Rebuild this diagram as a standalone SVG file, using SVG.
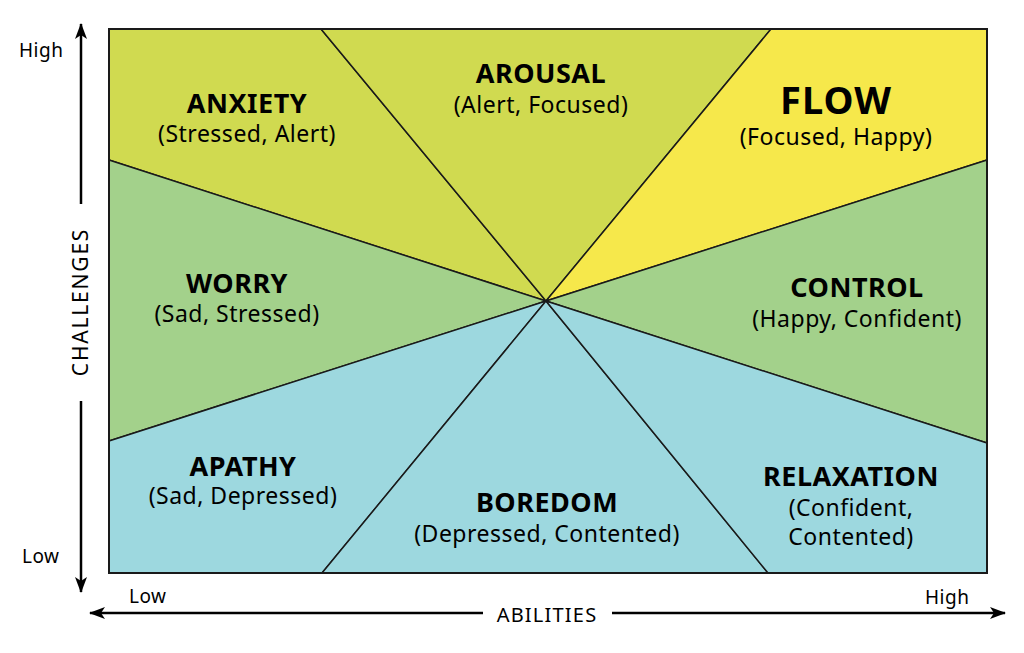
<svg xmlns="http://www.w3.org/2000/svg" width="1024" height="653" viewBox="0 0 1024 653">
<defs>
<marker id="ah" viewBox="0 0 16 12" refX="15" refY="6" markerWidth="16" markerHeight="12" markerUnits="userSpaceOnUse" orient="auto">
<path d="M0,0 L16,6 L0,12 L4,6 Z" fill="#000"/>
</marker>
<style>
.seg{stroke:#1a1a1a;stroke-width:1.5;stroke-linejoin:round}
.yg{fill:#D0DA50}.fl{fill:#F6E84B}.gr{fill:#A3D18B}.bl{fill:#9DD8DF}
.t{font-family:"Noto Sans",Lato,sans-serif;font-weight:700;font-size:27px;fill:#000;text-anchor:middle;letter-spacing:0.5px}
.s{font-family:"Noto Sans",Lato,sans-serif;font-weight:400;font-size:23px;fill:#000;text-anchor:middle;letter-spacing:0.5px}
.ax{font-family:"Noto Sans",Lato,sans-serif;font-weight:400;font-size:19px;fill:#000;letter-spacing:0.5px}
.axl{font-family:"Noto Sans",Lato,sans-serif;font-weight:400;font-size:20px;fill:#000;text-anchor:middle;letter-spacing:1.2px}
.arr{stroke:#000;stroke-width:2.5;fill:none}
</style>
</defs>
<rect width="1024" height="653" fill="#fff"/>
<g id="anxiety">
<polygon class="yg seg" points="109,29 321,29 546,301 109,160"/>
<text class="t" x="247" y="113">ANXIETY</text>
<text class="s" x="247" y="142">(Stressed, Alert)</text>
</g>
<g id="arousal">
<polygon class="yg seg" points="321,29 771,29 546,301"/>
<text class="t" x="541" y="83">AROUSAL</text>
<text class="s" x="541" y="113">(Alert, Focused)</text>
</g>
<g id="flow">
<polygon class="fl seg" points="771,29 987,29 987,160 546,301"/>
<text class="t" x="836" y="114" style="font-size:38px;letter-spacing:1px">FLOW</text>
<text class="s" x="836" y="145">(Focused, Happy)</text>
</g>
<g id="worry">
<polygon class="gr seg" points="109,160 546,301 109,441"/>
<text class="t" x="237" y="293">WORRY</text>
<text class="s" x="237" y="322">(Sad, Stressed)</text>
</g>
<g id="control">
<polygon class="gr seg" points="987,160 987,443 546,301"/>
<text class="t" x="857" y="297">CONTROL</text>
<text class="s" x="857" y="327">(Happy, Confident)</text>
</g>
<g id="apathy">
<polygon class="bl seg" points="109,441 546,301 322,573 109,573"/>
<text class="t" x="243" y="476">APATHY</text>
<text class="s" x="243" y="504">(Sad, Depressed)</text>
</g>
<g id="boredom">
<polygon class="bl seg" points="322,573 546,301 768,573"/>
<text class="t" x="547" y="512">BOREDOM</text>
<text class="s" x="547" y="542">(Depressed, Contented)</text>
</g>
<g id="relaxation">
<polygon class="bl seg" points="768,573 546,301 987,443 987,573"/>
<text class="t" x="851" y="486">RELAXATION</text>
<text class="s" x="851" y="516">(Confident,</text>
<text class="s" x="851" y="545">Contented)</text>
</g>
<rect x="109" y="29" width="878" height="544" fill="none" stroke="#1a1a1a" stroke-width="2"/>
<g id="axes">
<line class="arr" x1="81" y1="204" x2="81" y2="24" marker-end="url(#ah)"/>
<line class="arr" x1="81" y1="401" x2="81" y2="592" marker-end="url(#ah)"/>
<line class="arr" x1="483" y1="613" x2="90" y2="613" marker-end="url(#ah)"/>
<line class="arr" x1="612" y1="613" x2="1005" y2="613" marker-end="url(#ah)"/>
</g>
<g id="labels">
<text class="ax" x="19" y="57">High</text>
<text class="ax" x="22" y="563">Low</text>
<text class="ax" x="129" y="603">Low</text>
<text class="ax" x="925" y="604">High</text>
<text class="axl" x="547" y="622">ABILITIES</text>
<text class="axl" transform="translate(88,302) rotate(-90)" style="font-size:21px;letter-spacing:1.8px">CHALLENGES</text>
</g>
</svg>
